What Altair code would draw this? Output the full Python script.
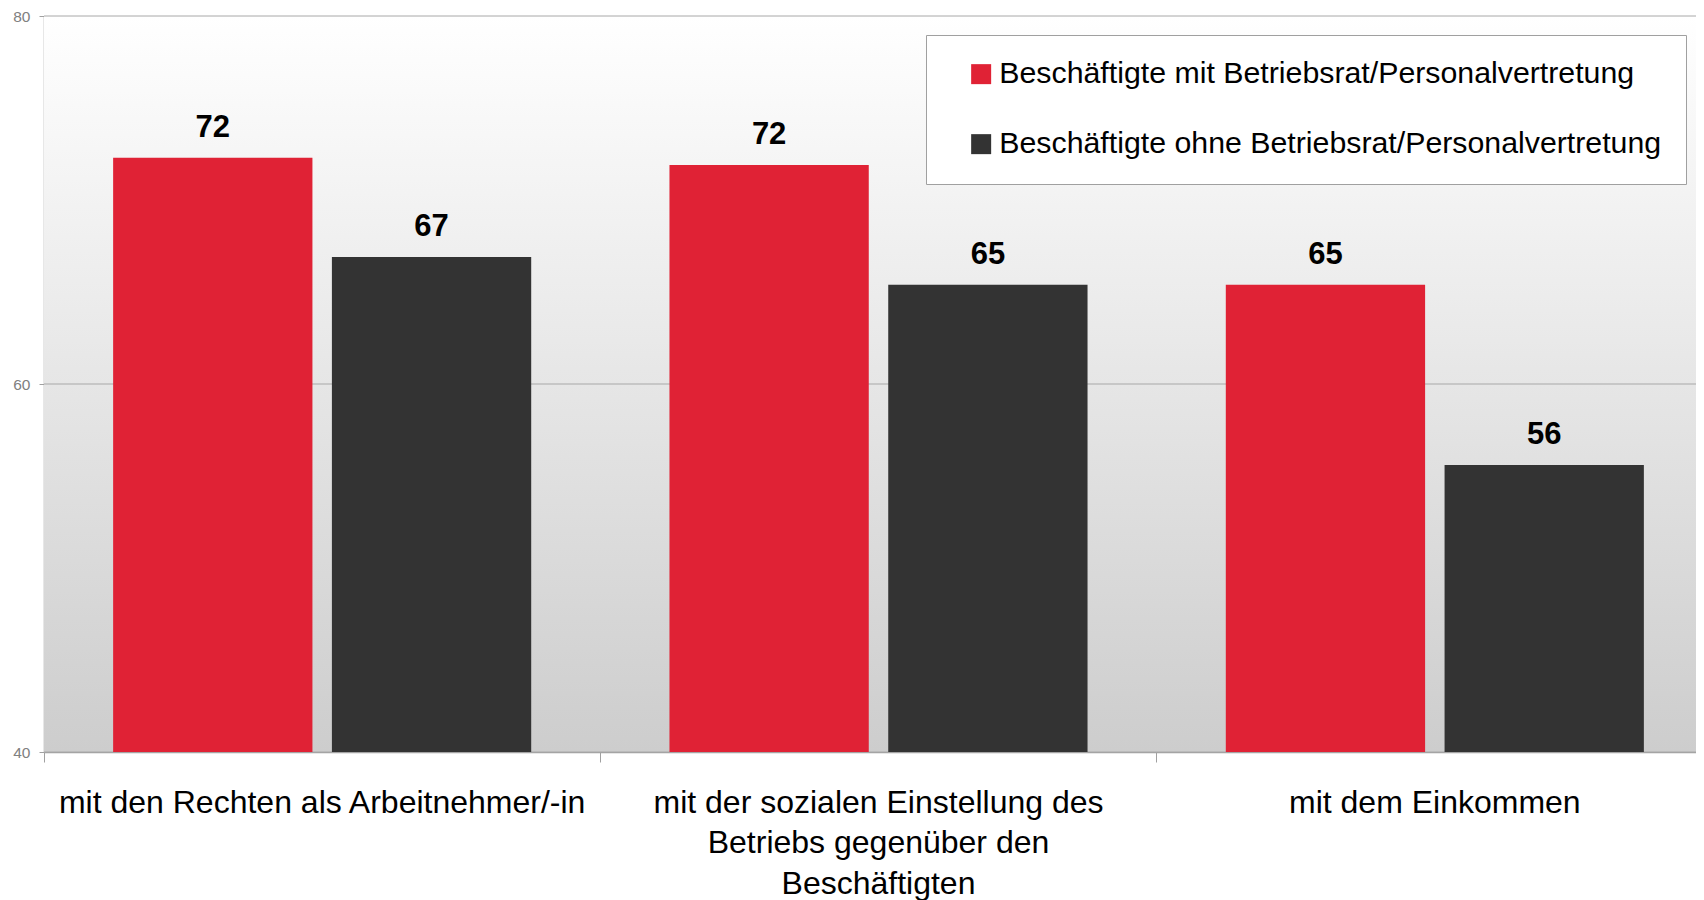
import altair as alt
import pandas as pd

categories = [
    "mit den Rechten als Arbeitnehmer/-in",
    "mit der sozialen Einstellung des|Betriebs gegenüber den|Beschäftigten",
    "mit dem Einkommen",
]
groups = [
    "Beschäftigte mit Betriebsrat/Personalvertretung",
    "Beschäftigte ohne Betriebsrat/Personalvertretung",
]
with_council = [72.3, 71.9, 65.4]
without_council = [66.9, 65.4, 55.6]
colors = ["#E02235", "#333333"]
y_ticks = [40, 60, 80]

rows = []
for i, c in enumerate(categories):
    rows.append({"category": c, "group": groups[0], "value": with_council[i]})
    rows.append({"category": c, "group": groups[1], "value": without_council[i]})
df = pd.DataFrame(rows)
grid_df = pd.DataFrame({"value": y_ticks})

FONT = "Liberation Sans"
PLOT_W = 1652      # visible plot width (page is 1704 wide)
BAND_RANGE = 1669  # the third category runs past the right edge, as in the reference

x_enc = alt.X(
    "category:N",
    sort=categories,
    scale=alt.Scale(paddingInner=0, paddingOuter=0, range=[0, BAND_RANGE]),
    axis=alt.Axis(
        title=None,
        labelAngle=0,
        labelExpr="split(datum.label, '|')",
        labelFont=FONT,
        labelFontSize=32,
        labelColor="black",
        labelLimit=800,
        labelLineHeight=40.5,
        labelPadding=25,
        tickSize=10,
        tickColor="#a0a0a0",
        domainColor="#a0a0a0",
        domainWidth=1.5,
        bandPosition=0,
        grid=False,
    ),
)
xo_enc = alt.XOffset(
    "group:N",
    sort=groups,
    scale=alt.Scale(paddingInner=0.089, paddingOuter=0.316),
)
y_scale = alt.Scale(domain=[40, 80], zero=False, nice=False)
y_axis = alt.Axis(
    title=None,
    values=y_ticks,
    labelFont=FONT,
    labelFontSize=15.5,
    labelColor="#808080",
    labelPadding=9,
    tickSize=5,
    tickColor="#a0a0a0",
    domainColor="#a0a0a0",
    domainWidth=1.5,
    grid=False,
)
y_enc = alt.Y("value:Q", scale=y_scale, axis=y_axis)

gradient = alt.LinearGradient(
    gradient="linear",
    stops=[
        alt.GradientStop(color="#ffffff", offset=0),
        alt.GradientStop(color="#cdcdcd", offset=1),
    ],
    x1=0, x2=0, y1=0, y2=1,
)

background = alt.Chart(pd.DataFrame({"bg": [0]})).mark_rect(
    color=gradient
).encode(
    x=alt.value(0),
    x2=alt.value("width"),
    y=alt.value(0),
    y2=alt.value("height"),
)

gridlines = alt.Chart(grid_df).mark_rule(color="#a8a8a8", strokeWidth=1).encode(
    y=y_enc,
)

base = alt.Chart(df)

bars = base.mark_bar().encode(
    x=x_enc,
    xOffset=xo_enc,
    y=y_enc,
    y2=alt.datum(40),
    color=alt.Color(
        "group:N",
        sort=groups,
        scale=alt.Scale(domain=groups, range=colors),
        legend=alt.Legend(
            title=None,
            orient="none",
            legendX=882,
            legendY=19,
            labelFont=FONT,
            labelFontSize=30.3,
            labelColor="black",
            labelLimit=900,
            symbolType="square",
            symbolSize=400,
            symbolStrokeWidth=0,
            symbolOpacity=1,
            symbolOffset=16,
            labelOffset=3,
            rowPadding=39,
            padding=24,
            strokeColor="#a0a0a0",
            fillColor="white",
        ),
    ),
)

labels = base.mark_text(
    baseline="alphabetic",
    dy=-21,
    font=FONT,
    fontSize=31,
    fontWeight="bold",
    color="black",
).encode(
    x=x_enc,
    xOffset=xo_enc,
    y=y_enc,
    text=alt.Text("value:Q", format=".0f"),
)

chart = (
    alt.layer(background, gridlines, bars, labels)
    .properties(
        width=PLOT_W,
        height=736,
        autosize=alt.AutoSizeParams(type="none"),
        padding={"left": 36, "top": 8, "right": 0, "bottom": 150},
        background="white",
    )
    .configure_view(strokeWidth=0)
)

chart.save("out.html", embed_options={"renderer": "svg", "actions": False})
